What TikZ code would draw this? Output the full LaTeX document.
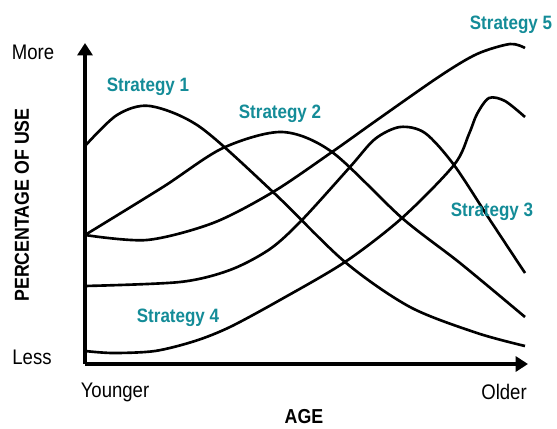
\documentclass[tikz,border=0pt]{standalone}
\usepackage{fontspec}
\setmainfont{Liberation Sans}[FakeStretch=0.88]
\usetikzlibrary{arrows.meta}
\definecolor{stratcol}{RGB}{20,140,152}
\tikzset{strat/.style={font=\fontsize{11}{13}\selectfont\bfseries,text=stratcol},
  axlab/.style={font=\fontsize{12}{14}\selectfont},
  axtitle/.style={font=\fontsize{11.5}{14}\selectfont\bfseries}}
\begin{document}
\begin{tikzpicture}
\useasboundingbox (-1.7,-1.28) rectangle (9.44,7.28);
\draw [line width=2.3pt,-{Triangle[length=7pt,width=8.5pt]}] (0,0) -- (0,6.42) ;
\draw [line width=2.3pt,-{Triangle[length=7pt,width=8.5pt]}] (0,0) -- (8.86,0) ;
\node [axlab] (more) at (-1.04,6.24) {More} ;
\node [axlab] (less) at (-1.06,0.14) {Less} ;
\node [axlab] (young) at (0.6,-0.56) {Younger} ;
\node [axlab] (old) at (8.38,-0.56) {Older} ;
\node [axtitle] (age) at (4.38,-1.06) {AGE} ;
\node [axtitle,rotate=90] (use) at (-1.26,3.18) {PERCENTAGE OF USE} ;
\begin{scope}[line width=1.5pt]
\draw plot [smooth] coordinates {(0,4.36) (0.64,4.98) (1.3,5.16) (2.3,4.74) (3.76,3.44) (5.2,2.04) (6.5,1.14) (7.84,0.62) (8.8,0.36)} ;
\draw plot [smooth] coordinates {(0,2.58) (1.56,3.54) (2.76,4.32) (3.94,4.64) (4.94,4.24) (6.34,2.92) (7.5,2.02) (8.8,0.94)} ;
\draw plot [smooth] coordinates {(0,1.56) (1.9,1.64) (2.9,1.88) (3.7,2.3) (4.34,2.88) (5.3,3.94) (5.8,4.5) (6.3,4.74) (6.8,4.62) (7.38,3.98) (8.1,2.88) (8.8,1.82)} ;
\draw plot [smooth] coordinates {(0,0.26) (0.56,0.22) (1.4,0.26) (2.2,0.46) (2.9,0.74) (3.9,1.28) (5.2,2.04) (6.34,2.92) (7.38,3.98) (7.68,4.6) (7.84,5.0) (8.08,5.32) (8.4,5.26) (8.8,4.94)} ;
\draw plot [smooth] coordinates {(0,2.58) (1.24,2.48) (2.56,2.82) (3.76,3.44) (4.94,4.24) (5.84,4.88) (7.1,5.76) (7.84,6.2) (8.5,6.4) (8.8,6.32)} ;
\end{scope}
\node [strat] (s1) at (1.26,5.54) {Strategy 1} ;
\node [strat] (s2) at (3.9,5.0) {Strategy 2} ;
\node [strat] (s3) at (8.14,3.04) {Strategy 3} ;
\node [strat] (s4) at (1.86,0.92) {Strategy 4} ;
\node [strat] (s5) at (8.52,6.78) {Strategy 5} ;
\end{tikzpicture}
\end{document}
